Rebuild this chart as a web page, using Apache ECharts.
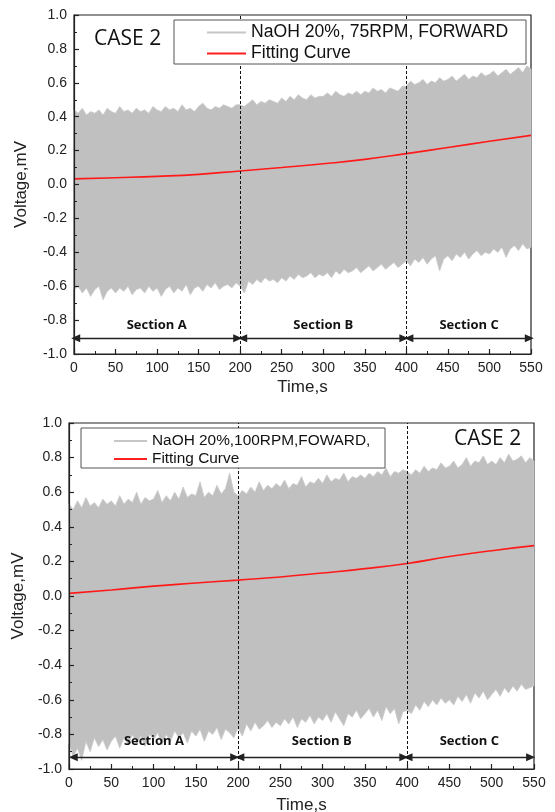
<!DOCTYPE html>
<html>
<head>
<meta charset="utf-8">
<script src="https://cdn.jsdelivr.net/npm/echarts@6/dist/echarts.min.js"></script>
<style>
html,body{margin:0;padding:0;background:#fff;}
#c{width:555px;height:812px;}
</style>
</head>
<body>
<div id="c"></div>
<script>
// ---------- data ----------
const xTicks = [0, 50, 100, 150, 200, 250, 300, 350, 400, 450, 500, 550];
const sectionNames = ['Section A', 'Section B', 'Section C'];
const boundaries = [200, 400];

// sampling instants of the band envelope (every 5 s)
const bandTimes = [];
for (let t = 0; t <= 550; t += 5) bandTimes.push(t);

// Case 1 (75 RPM) raw-signal envelope
const upper75 = [
  0.44,0.42,0.45,0.41,0.43,0.42,0.44,0.41,0.45,0.43,
  0.42,0.46,0.43,0.44,0.42,0.45,0.43,0.44,0.42,0.46,
  0.44,0.43,0.46,0.44,0.45,0.43,0.47,0.44,0.45,0.43,
  0.46,0.48,0.45,0.44,0.46,0.45,0.47,0.46,0.45,0.47,
  0.47,0.46,0.48,0.50,0.47,0.49,0.48,0.50,0.49,0.48,
  0.51,0.49,0.52,0.50,0.53,0.51,0.50,0.53,0.51,0.52,
  0.52,0.54,0.52,0.55,0.53,0.52,0.54,0.53,0.55,0.53,
  0.55,0.54,0.57,0.55,0.56,0.54,0.57,0.56,0.55,0.58,
  0.58,0.61,0.59,0.60,0.62,0.59,0.61,0.60,0.63,0.61,
  0.62,0.64,0.61,0.63,0.65,0.62,0.64,0.63,0.66,0.64,
  0.65,0.67,0.64,0.66,0.68,0.65,0.67,0.69,0.66,0.70,
  0.68
];
const lower75 = [
  -0.62,-0.60,-0.64,-0.61,-0.66,-0.62,-0.60,-0.68,-0.63,-0.61,
  -0.64,-0.61,-0.63,-0.60,-0.65,-0.62,-0.61,-0.64,-0.60,-0.63,
  -0.61,-0.66,-0.62,-0.60,-0.64,-0.61,-0.63,-0.59,-0.65,-0.61,
  -0.60,-0.63,-0.59,-0.61,-0.58,-0.62,-0.60,-0.59,-0.61,-0.58,
  -0.60,-0.64,-0.57,-0.59,-0.56,-0.58,-0.55,-0.57,-0.56,-0.58,
  -0.55,-0.57,-0.54,-0.56,-0.53,-0.55,-0.54,-0.52,-0.55,-0.53,
  -0.54,-0.52,-0.55,-0.51,-0.53,-0.50,-0.52,-0.51,-0.49,-0.52,
  -0.50,-0.48,-0.51,-0.49,-0.47,-0.50,-0.48,-0.46,-0.49,-0.47,
  -0.45,-0.48,-0.44,-0.46,-0.43,-0.47,-0.44,-0.42,-0.51,-0.44,
  -0.42,-0.45,-0.41,-0.43,-0.40,-0.44,-0.41,-0.39,-0.42,-0.40,
  -0.41,-0.38,-0.40,-0.37,-0.43,-0.38,-0.36,-0.39,-0.35,-0.38,
  -0.37
];
// Case 2 (100 RPM) raw-signal envelope
const upper100 = [
  0.53,0.50,0.55,0.51,0.57,0.52,0.54,0.51,0.56,0.53,
  0.55,0.52,0.58,0.53,0.56,0.54,0.60,0.53,0.57,0.55,
  0.56,0.61,0.54,0.58,0.55,0.60,0.56,0.63,0.57,0.59,
  0.58,0.66,0.57,0.60,0.58,0.64,0.59,0.62,0.71,0.60,
  0.58,0.61,0.59,0.63,0.60,0.66,0.61,0.64,0.62,0.65,
  0.63,0.67,0.62,0.65,0.64,0.69,0.63,0.66,0.65,0.68,
  0.65,0.70,0.66,0.68,0.67,0.71,0.66,0.69,0.68,0.70,
  0.68,0.71,0.69,0.72,0.70,0.74,0.69,0.72,0.71,0.73,
  0.72,0.70,0.73,0.71,0.75,0.72,0.74,0.73,0.77,0.74,
  0.75,0.78,0.74,0.76,0.80,0.75,0.78,0.77,0.81,0.76,
  0.78,0.76,0.80,0.77,0.82,0.78,0.79,0.81,0.77,0.80,
  0.78
];
const lower100 = [
  -0.85,-0.93,-0.88,-0.95,-0.84,-0.90,-0.82,-0.87,-0.83,-0.89,
  -0.84,-0.81,-0.88,-0.82,-0.86,-0.80,-0.85,-0.81,-0.87,-0.80,
  -0.83,-0.79,-0.86,-0.80,-0.84,-0.78,-0.82,-0.79,-0.85,-0.78,
  -0.81,-0.77,-0.84,-0.78,-0.80,-0.76,-0.83,-0.77,-0.79,-0.82,
  -0.76,-0.81,-0.74,-0.78,-0.73,-0.77,-0.75,-0.72,-0.76,-0.73,
  -0.75,-0.71,-0.74,-0.70,-0.76,-0.71,-0.73,-0.69,-0.74,-0.70,
  -0.72,-0.68,-0.73,-0.67,-0.71,-0.75,-0.68,-0.70,-0.66,-0.71,
  -0.68,-0.65,-0.70,-0.66,-0.72,-0.64,-0.68,-0.65,-0.74,-0.67,
  -0.66,-0.68,-0.63,-0.66,-0.61,-0.64,-0.60,-0.63,-0.59,-0.62,
  -0.60,-0.63,-0.58,-0.61,-0.57,-0.62,-0.56,-0.59,-0.55,-0.60,
  -0.57,-0.54,-0.58,-0.53,-0.56,-0.52,-0.55,-0.51,-0.54,-0.53,
  -0.52
];
// fitting curves (at xTicks)
const fit75  = [0.033,0.040,0.048,0.060,0.080,0.100,0.122,0.148,0.182,0.218,0.255,0.290];
const fit100 = [0.015,0.035,0.057,0.075,0.092,0.110,0.133,0.158,0.188,0.228,0.262,0.291];

// arrow extents per section (s)
const arrows75  = [[2,197],[203,397],[403,548]];
const arrows100 = [[5,196],[202,396],[401,546]];
const arrowY75 = -0.907, arrowY100 = -0.932;

const names75  = ['NaOH 20%, 75RPM, FORWARD', 'Fitting Curve'];
const names100 = ['NaOH 20%,100RPM,FOWARD,', 'Fitting Curve'];
const caseLabel = 'CASE 2';

// ---------- chart ----------
const GRAY = '#c0c0c0';
const AX = '#222';
const tickFont = 'Liberation Sans, Arial, sans-serif';

function mkX(i, gap) {
  return {
    type: 'value', gridIndex: i, min: 0, max: 550, interval: 50,
    name: 'Time,s', nameLocation: 'middle', nameGap: gap,
    nameTextStyle: { fontFamily: tickFont, fontSize: 17, color: '#222' },
    axisLine: { show: true, onZero: false, lineStyle: { color: AX, width: 1.2 } },
    axisTick: { show: true, inside: true, length: 5, lineStyle: { color: AX, width: 1.2 } },
    minorTick: { show: true, splitNumber: 2, length: 3, lineStyle: { color: AX, width: 1 } },
    axisLabel: { margin: 7, fontFamily: tickFont, fontSize: 14, color: '#222' },
    splitLine: { show: false }, z: 10
  };
}
function mkY(i, gap) {
  return {
    type: 'value', gridIndex: i, min: -1, max: 1, interval: 0.2,
    name: 'Voltage,mV', nameLocation: 'middle', nameGap: gap,
    nameTextStyle: { fontFamily: tickFont, fontSize: 17, color: '#222' },
    axisLine: { show: true, onZero: false, lineStyle: { color: AX, width: 1.2 } },
    axisTick: { show: true, inside: true, length: 5, lineStyle: { color: AX, width: 1.2 } },
    minorTick: { show: true, splitNumber: 2, length: 3, lineStyle: { color: AX, width: 1 } },
    axisLabel: { margin: 7, fontFamily: tickFont, fontSize: 14, color: '#222',
      formatter: v => v.toFixed(1) },
    splitLine: { show: false }, z: 10
  };
}

// band of the raw signal: one polygon through all envelope samples
function bandSeries(i, name, up, lo, arrows, ay, labelDist) {
  const rows = bandTimes.map((t, k) => [t, lo[k], up[k]]);
  const arrowLines = arrows.map((a, k) => [
    { coord: [a[0], ay], name: sectionNames[k],
      label: { show: true, position: 'insideMiddleTop', distance: labelDist,
        formatter: sectionNames[k], fontFamily: 'Open Sans, sans-serif', fontWeight: 'bold',
        fontSize: 13, color: '#111' } },
    { coord: [a[1], ay] }
  ]);
  return {
    type: 'custom', name: name, xAxisIndex: i, yAxisIndex: i,
    data: rows, encode: { x: 0, y: [1, 2] },
    itemStyle: { color: '#c6c6c6' }, silent: true, z: 2,
    renderItem: function (params, api) {
      if (params.dataIndexInside !== 0) return null;
      const n = params.dataInsideLength;
      const top = [], bot = [];
      for (let j = 0; j < n; j++) {
        const t = api.value(0, j);
        top.push(api.coord([t, api.value(2, j)]));
        bot.push(api.coord([t, api.value(1, j)]));
      }
      const pts = top.concat(bot.reverse());
      return {
        type: 'polygon', shape: { points: pts },
        style: { fill: GRAY, stroke: '#c9c9c9', lineWidth: 0.8 }
      };
    },
    markLine: {
      silent: true, animation: false,
      symbol: ['triangle', 'triangle'], symbolSize: [8, 9],
      lineStyle: { type: 'solid', color: '#222', width: 1.4 },
      data: arrowLines
    }
  };
}

function fitSeries(i, fit) {
  return {
    type: 'line', name: 'Fitting Curve', xAxisIndex: i, yAxisIndex: i,
    data: xTicks.map((t, k) => [t, fit[k]]), smooth: true, showSymbol: false,
    color: '#ff2020', lineStyle: { color: '#ff1a1a', width: 1.6 }, z: 4,
    markLine: {
      silent: true, animation: false, symbol: ['none', 'none'],
      lineStyle: { type: [3, 2], color: '#111', width: 1 }, label: { show: false },
      data: boundaries.map(b => ({ xAxis: b }))
    }
  };
}

const chart = echarts.init(document.getElementById('c'), null, { renderer: 'canvas' });
const option = {
  animation: false,
  backgroundColor: '#fff',
  grid: [
    { left: 74, top: 15, width: 457, height: 339, show: true, borderColor: AX, borderWidth: 1.2,
      containLabel: false, outerBoundsMode: 'none' },
    { left: 69, top: 423, width: 465, height: 346, show: true, borderColor: AX, borderWidth: 1.2,
      containLabel: false, outerBoundsMode: 'none' }
  ],
  xAxis: [mkX(0, 25), mkX(1, 28)],
  yAxis: [mkY(0, 44), mkY(1, 40)],
  graphic: [
    { type: 'rect', z: 20, shape: { x: 174, y: 20, width: 352, height: 44 },
      style: { fill: '#fff', stroke: '#555', lineWidth: 1 } },
    { type: 'rect', z: 20, shape: { x: 81, y: 428, width: 304, height: 40 },
      style: { fill: '#fff', stroke: '#555', lineWidth: 1 } },
    { type: 'text', z: 21, left: 94, top: 29,
      style: { text: caseLabel, font: '21px "Open Sans", sans-serif', fill: '#111' } },
    { type: 'text', z: 21, left: 454, top: 429,
      style: { text: caseLabel, font: '21px "Open Sans", sans-serif', fill: '#111' } }
  ],
  legend: [
    { data: names75, orient: 'vertical', left: 207, top: 22, padding: 0, itemGap: 0,
      icon: 'rect', itemWidth: 39, itemHeight: 2, z: 30, selectedMode: false,
      textStyle: { fontFamily: tickFont, fontSize: 17.6, color: '#111', lineHeight: 21 } },
    { data: names100, orient: 'vertical', left: 114, top: 432, padding: 0, itemGap: 0,
      icon: 'rect', itemWidth: 33, itemHeight: 2, z: 30, selectedMode: false,
      textStyle: { fontFamily: tickFont, fontSize: 15.4, color: '#111', lineHeight: 18 } }
  ],
  series: [
    bandSeries(0, names75[0], upper75, lower75, arrows75, arrowY75, 6),
    fitSeries(0, fit75),
    bandSeries(1, names100[0], upper100, lower100, arrows100, arrowY100, 9),
    fitSeries(1, fit100)
  ]
};
chart.setOption(option);
</script>
</body>
</html>
